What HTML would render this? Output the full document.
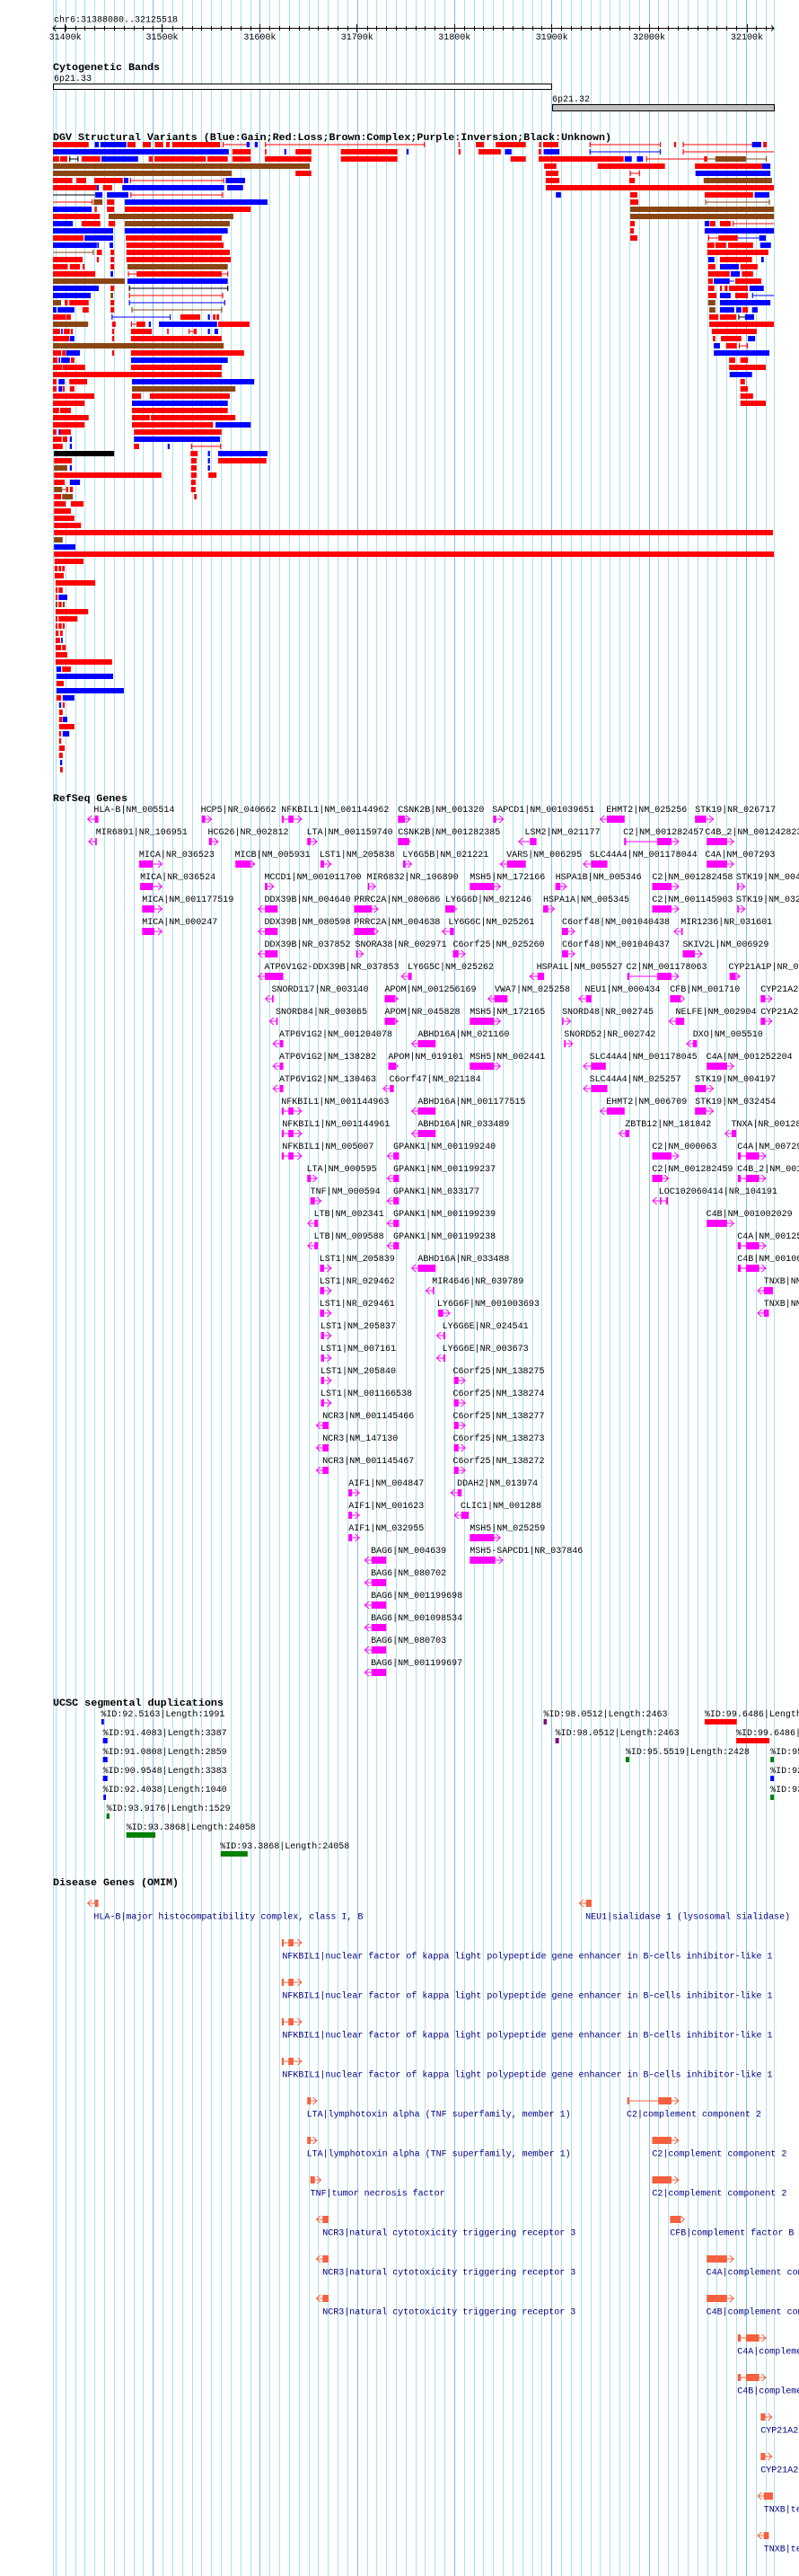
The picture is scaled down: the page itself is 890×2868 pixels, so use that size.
<!DOCTYPE html>
<html><head><meta charset="utf-8">
<style>
html,body{margin:0;padding:0;background:#fff;overflow:hidden;width:890px;height:2868px}
svg{display:block}
text{font-family:"Liberation Mono",monospace;font-size:10px;fill:#000}
.t{font-weight:bold;font-size:11px}
.r{fill:#f00}.b{fill:#00f}.n{fill:#8b4513}.k{fill:#000}.p{fill:#800080}.g{fill:#008000}
.m rect{fill:#f0f}.m path{fill:none;stroke:#f0f;stroke-width:1;vector-effect:non-scaling-stroke}
.o rect{fill:#f5603f}.o path{fill:none;stroke:#f5603f;stroke-width:1;vector-effect:non-scaling-stroke}
.d{fill:#000080}
</style></head><body>
<svg width="890" height="2868" viewBox="0 0 890 2868" xmlns="http://www.w3.org/2000/svg">
<path stroke="#a8e2ee" stroke-width="1" d="M59.5 0V2868M62.5 0V2868M73.5 0V2868M84.5 0V2868M94.5 0V2868M105.5 0V2868M116.5 0V2868M127.5 0V2868M138.5 0V2868M149.5 0V2868M159.5 0V2868M181.5 0V2868M192.5 0V2868M203.5 0V2868M214.5 0V2868M224.5 0V2868M235.5 0V2868M246.5 0V2868M257.5 0V2868M268.5 0V2868M279.5 0V2868M300.5 0V2868M311.5 0V2868M322.5 0V2868M333.5 0V2868M344.5 0V2868M354.5 0V2868M365.5 0V2868M376.5 0V2868M387.5 0V2868M409.5 0V2868M419.5 0V2868M430.5 0V2868M441.5 0V2868M452.5 0V2868M463.5 0V2868M473.5 0V2868M484.5 0V2868M495.5 0V2868M517.5 0V2868M528.5 0V2868M538.5 0V2868M549.5 0V2868M560.5 0V2868M571.5 0V2868M582.5 0V2868M593.5 0V2868M603.5 0V2868M625.5 0V2868M636.5 0V2868M647.5 0V2868M658.5 0V2868M668.5 0V2868M679.5 0V2868M690.5 0V2868M701.5 0V2868M712.5 0V2868M733.5 0V2868M744.5 0V2868M755.5 0V2868M766.5 0V2868M777.5 0V2868M788.5 0V2868M798.5 0V2868M809.5 0V2868M820.5 0V2868M842.5 0V2868M853.5 0V2868M862.5 0V2868"/>
<path stroke="#86bde6" stroke-width="1" d="M170.5 0V2868M289.5 0V2868M398.5 0V2868M506.5 0V2868M614.5 0V2868M723.5 0V2868M831.5 0V2868"/>

<!-- ruler -->
<text x="60" y="24.5">chr6:31388080..32125518</text>
<path stroke="#000" stroke-width="1" fill="none" d="M59 31.5H862M62 28.5L59 31.5L62 34.5M859 28.5L862 31.5L859 34.5"/>
<path stroke="#000" stroke-width="1" d="M73.5 29V34M84.5 29V34M94.5 29V34M105.5 29V34M116.5 29V34M127.5 29V34M138.5 29V34M149.5 29V34M159.5 29V34M170.5 29V34M192.5 29V34M203.5 29V34M214.5 29V34M224.5 29V34M235.5 29V34M246.5 29V34M257.5 29V34M268.5 29V34M279.5 29V34M300.5 29V34M311.5 29V34M322.5 29V34M333.5 29V34M344.5 29V34M354.5 29V34M365.5 29V34M376.5 29V34M387.5 29V34M409.5 29V34M419.5 29V34M430.5 29V34M441.5 29V34M452.5 29V34M463.5 29V34M473.5 29V34M484.5 29V34M495.5 29V34M517.5 29V34M528.5 29V34M538.5 29V34M549.5 29V34M560.5 29V34M571.5 29V34M582.5 29V34M593.5 29V34M603.5 29V34M625.5 29V34M636.5 29V34M647.5 29V34M658.5 29V34M668.5 29V34M679.5 29V34M690.5 29V34M701.5 29V34M712.5 29V34M733.5 29V34M744.5 29V34M755.5 29V34M766.5 29V34M777.5 29V34M788.5 29V34M798.5 29V34M809.5 29V34M820.5 29V34M842.5 29V34M853.5 29V34M72.5 27V36M180.5 27V36M289.5 27V36M397.5 27V36M506.5 27V36M614.5 27V36M723.5 27V36M832.5 27V36"/>
<g text-anchor="middle"><text x="72.6" y="44">31400k</text><text x="180.5" y="44">31500k</text><text x="289.4" y="44">31600k</text><text x="397.8" y="44">31700k</text><text x="506.2" y="44">31800k</text><text x="614.6" y="44">31900k</text><text x="723" y="44">32000k</text><text x="832" y="44">32100k</text></g>

<!-- cytobands -->
<text class="t" x="59" y="78" textLength="119" lengthAdjust="spacingAndGlyphs">Cytogenetic Bands</text>
<text x="60" y="90">6p21.33</text>
<rect x="59.5" y="93.5" width="555" height="6" fill="#fff" stroke="#000"/>
<text x="615" y="113">6p21.32</text>
<rect x="615.5" y="116.5" width="247" height="7" fill="#c0c0c0" stroke="#000"/>

<!-- DGV -->
<text class="t" x="59" y="156" textLength="622" lengthAdjust="spacingAndGlyphs">DGV Structural Variants (Blue:Gain;Red:Loss;Brown:Complex;Purple:Inversion;Black:Unknown)</text>
<g transform="scale(0.56754 1)">
<g transform="translate(0,158)"><rect class="r" x="104" width="70" height="6"/><rect class="b" x="186" width="8" height="6"/><rect class="b" x="197" width="51" height="6"/><rect class="r" x="250" width="16" height="6"/><rect class="r" x="280" width="16" height="6"/><rect class="r" x="304" width="16" height="6"/><rect class="r" x="326" width="7" height="6"/><rect class="r" x="338" width="94" height="6"/><rect class="r" x="437" y="2.5" width="48" height="1"/><rect class="r" x="437" width="2" height="6"/><rect class="b" x="484" width="6" height="6"/><rect class="b" x="500" width="6" height="6"/><rect class="r" x="520" y="2.5" width="314" height="1"/><rect class="r" x="520" width="2" height="6"/><rect class="r" x="832" width="2" height="6"/><rect class="r" x="900" width="2" height="6"/><rect class="r" x="934" width="16" height="6"/><rect class="r" x="973" width="59" height="6"/><rect class="r" x="1058" width="4" height="6"/><rect class="r" x="1066" width="30" height="6"/><rect class="r" x="1157" y="2.5" width="140" height="1"/><rect class="r" x="1157" width="2" height="6"/><rect class="r" x="1295" width="2" height="6"/><rect class="r" x="1323" width="4" height="6"/><rect class="r" x="1340" y="2.5" width="140" height="1"/><rect class="r" x="1340" width="2" height="6"/><rect class="b" x="1476" width="18" height="6"/><rect class="r" x="1498" width="7" height="6"/></g>
<g transform="translate(0,166)"><rect class="b" x="104" width="345" height="6"/><rect class="r" x="456" width="36" height="6"/><rect class="r" x="520" width="3" height="6"/><rect class="b" x="558" width="4" height="6"/><rect class="r" x="580" width="31" height="6"/><rect class="r" x="669" width="111" height="6"/><rect class="b" x="798" width="4" height="6"/><rect class="r" x="900" width="4" height="6"/><rect class="r" x="939" width="44" height="6"/><rect class="b" x="991" width="13" height="6"/><rect class="r" x="1057" width="5" height="6"/><rect class="b" x="1067" width="31" height="6"/><rect class="b" x="1157" y="2.5" width="140" height="1"/><rect class="b" x="1157" width="2" height="6"/><rect class="b" x="1295" width="2" height="6"/><rect class="r" x="1340" y="2.5" width="179" height="1"/><rect class="r" x="1340" width="2" height="6"/></g>
<g transform="translate(0,174)"><rect class="r" x="104" width="12" height="6"/><rect class="r" x="118" width="14" height="6"/><rect class="k" x="136" y="2.5" width="18" height="1"/><rect class="k" x="136" width="2" height="6"/><rect class="k" x="152" width="2" height="6"/><rect class="r" x="160" width="37" height="6"/><rect class="b" x="199" width="72" height="6"/><rect class="r" x="292" width="8" height="6"/><rect class="r" x="303" width="101" height="6"/><rect class="r" x="407" width="40" height="6"/><rect class="r" x="456" width="36" height="6"/><rect class="r" x="520" width="91" height="6"/><rect class="r" x="669" width="111" height="6"/><rect class="r" x="1002" width="30" height="6"/><rect class="r" x="1057" width="167" height="6"/><rect class="b" x="1226" width="14" height="6"/><rect class="b" x="1250" width="12" height="6"/><rect class="r" x="1268" y="2.5" width="116" height="1"/><rect class="r" x="1268" width="2" height="6"/><rect class="r" x="1382" width="6" height="6"/><rect class="n" x="1388" y="2.5" width="117" height="1"/><rect class="n" x="1404" width="60" height="6"/><rect class="n" x="1503" width="2" height="6"/></g>
<g transform="translate(0,182)"><rect class="n" x="104" width="504" height="6"/><rect class="r" x="1068" width="24" height="6"/><rect class="r" x="1173" width="132" height="6"/><rect class="r" x="1364" width="132" height="6"/><rect class="b" x="1496" width="16" height="6"/></g>
<g transform="translate(0,190)"><rect class="n" x="104" width="351" height="6"/><rect class="r" x="580" width="31" height="6"/><rect class="r" x="1071" width="25" height="6"/><rect class="r" x="1236" y="2.5" width="20" height="1"/><rect class="r" x="1236" width="2" height="6"/><rect class="r" x="1254" width="2" height="6"/><rect class="b" x="1365" width="147" height="6"/></g>
<g transform="translate(0,198)"><rect class="r" x="104" width="38" height="6"/><rect class="r" x="150" width="19" height="6"/><rect class="r" x="185" width="56" height="6"/><rect class="b" x="243" width="9" height="6"/><rect class="r" x="255" y="2.5" width="185" height="1"/><rect class="r" x="255" width="2" height="6"/><rect class="r" x="438" width="2" height="6"/><rect class="b" x="443" width="38" height="6"/><rect class="r" x="1071" width="27" height="6"/><rect class="r" x="1235" width="11" height="6"/><rect class="n" x="1381" width="134" height="6"/></g>
<g transform="translate(0,206)"><rect class="r" x="104" width="86" height="6"/><rect class="b" x="190" width="4" height="6"/><rect class="r" x="202" width="18" height="6"/><rect class="b" x="240" width="200" height="6"/><rect class="b" x="446" width="31" height="6"/><rect class="r" x="1071" width="448" height="6"/></g>
<g transform="translate(0,214)"><rect class="k" x="104" y="2.5" width="83" height="1"/><rect class="b" x="187" width="14" height="6"/><rect class="b" x="210" width="42" height="6"/><rect class="r" x="256" y="2.5" width="182" height="1"/><rect class="r" x="256" width="2" height="6"/><rect class="r" x="436" width="2" height="6"/><rect class="b" x="1091" width="10" height="6"/><rect class="r" x="1237" width="14" height="6"/><rect class="r" x="1383" width="95" height="6"/><rect class="b" x="1481" width="29" height="6"/></g>
<g transform="translate(0,222)"><rect class="r" x="104" y="2.5" width="78" height="1"/><rect class="r" x="180" width="2" height="6"/><rect class="n" x="184" width="17" height="6"/><rect class="r" x="210" width="14" height="6"/><rect class="b" x="245" width="280" height="6"/><rect class="r" x="1237" width="16" height="6"/><rect class="n" x="1384" y="2.5" width="127" height="1"/><rect class="n" x="1384" width="2" height="6"/><rect class="n" x="1509" width="2" height="6"/></g>
<g transform="translate(0,230)"><rect class="b" x="104" width="76" height="6"/><rect class="r" x="186" width="4" height="6"/><rect class="r" x="210" width="14" height="6"/><rect class="r" x="245" width="247" height="6"/><rect class="n" x="1237" width="282" height="6"/></g>
<g transform="translate(0,238)"><rect class="r" x="104" width="92" height="6"/><rect class="n" x="213" width="245" height="6"/><rect class="n" x="1237" width="282" height="6"/></g>
<g transform="translate(0,246)"><rect class="b" x="104" width="39" height="6"/><rect class="r" x="160" width="37" height="6"/><rect class="r" x="213" width="13" height="6"/><rect class="n" x="245" width="206" height="6"/><rect class="r" x="1237" width="9" height="6"/><rect class="b" x="1383" width="9" height="6"/><rect class="r" x="1393" width="11" height="6"/><rect class="r" x="1413" width="21" height="6"/><rect class="r" x="1438" y="2.5" width="81" height="1"/><rect class="r" x="1438" width="2" height="6"/></g>
<g transform="translate(0,254)"><rect class="b" x="104" width="118" height="6"/><rect class="b" x="245" width="202" height="6"/><rect class="r" x="1237" width="7" height="6"/><rect class="b" x="1383" width="136" height="6"/></g>
<g transform="translate(0,262)"><rect class="r" x="104" width="60" height="6"/><rect class="b" x="166" width="56" height="6"/><rect class="r" x="247" width="188" height="6"/><rect class="r" x="1237" width="14" height="6"/><rect class="r" x="1390" y="2.5" width="20" height="1"/><rect class="r" x="1390" width="2" height="6"/><rect class="r" x="1410" width="38" height="6"/><rect class="b" x="1448" y="2.5" width="42" height="1"/><rect class="b" x="1490" width="13" height="6"/></g>
<g transform="translate(0,270)"><rect class="b" x="104" width="86" height="6"/><rect class="b" x="191" width="3" height="6"/><rect class="b" x="215" width="7" height="6"/><rect class="r" x="248" width="191" height="6"/><rect class="r" x="1388" width="14" height="6"/><rect class="r" x="1404" width="21" height="6"/><rect class="r" x="1429" width="49" height="6"/><rect class="b" x="1492" width="21" height="6"/></g>
<g transform="translate(0,278)"><rect class="n" x="104" y="2.5" width="80" height="1"/><rect class="n" x="182" width="2" height="6"/><rect class="r" x="190" width="10" height="6"/><rect class="r" x="217" width="7" height="6"/><rect class="r" x="248" width="203" height="6"/><rect class="r" x="1388" width="120" height="6"/></g>
<g transform="translate(0,286)"><rect class="r" x="104" width="58" height="6"/><rect class="r" x="190" width="4" height="6"/><rect class="r" x="217" width="7" height="6"/><rect class="r" x="248" width="205" height="6"/><rect class="b" x="1390" width="12" height="6"/><rect class="r" x="1413" width="63" height="6"/><rect class="b" x="1494" width="5" height="6"/></g>
<g transform="translate(0,294)"><rect class="r" x="104" width="29" height="6"/><rect class="r" x="137" width="20" height="6"/><rect class="r" x="162" width="4" height="6"/><rect class="r" x="217" width="7" height="6"/><rect class="n" x="250" width="197" height="6"/><rect class="r" x="1390" width="14" height="6"/><rect class="b" x="1413" width="37" height="6"/><rect class="r" x="1453" width="34" height="6"/></g>
<g transform="translate(0,302)"><rect class="r" x="104" width="83" height="6"/><rect class="b" x="217" width="5" height="6"/><rect class="r" x="251" y="2.5" width="197" height="1"/><rect class="r" x="251" width="2" height="6"/><rect class="r" x="446" width="2" height="6"/><rect class="r" x="268" width="167" height="6"/><rect class="r" x="1390" width="42" height="6"/><rect class="b" x="1434" width="18" height="6"/><rect class="r" x="1456" width="22" height="6"/></g>
<g transform="translate(0,310)"><rect class="n" x="104" width="141" height="6"/><rect class="b" x="250" width="197" height="6"/><rect class="r" x="1390" width="9" height="6"/><rect class="b" x="1401" width="31" height="6"/><rect class="b" x="1432" y="2.5" width="9" height="1"/><rect class="r" x="1443" width="51" height="6"/></g>
<g transform="translate(0,318)"><rect class="b" x="104" width="90" height="6"/><rect class="r" x="217" width="7" height="6"/><rect class="k" x="253" y="2.5" width="195" height="1"/><rect class="k" x="253" width="2" height="6"/><rect class="k" x="446" width="2" height="6"/><rect class="r" x="1390" width="12" height="6"/><rect class="r" x="1413" width="4" height="6"/><rect class="r" x="1422" width="6" height="6"/><rect class="r" x="1431" width="37" height="6"/><rect class="b" x="1471" width="28" height="6"/></g>
<g transform="translate(0,326)"><rect class="b" x="104" width="74" height="6"/><rect class="n" x="217" width="5" height="6"/><rect class="r" x="253" y="2.5" width="185" height="1"/><rect class="r" x="253" width="2" height="6"/><rect class="r" x="436" width="2" height="6"/><rect class="r" x="1390" width="16" height="6"/><rect class="b" x="1413" width="21" height="6"/><rect class="r" x="1443" width="25" height="6"/><rect class="b" x="1476" y="2.5" width="43" height="1"/><rect class="b" x="1476" width="2" height="6"/></g>
<g transform="translate(0,334)"><rect class="n" x="104" width="16" height="6"/><rect class="r" x="127" width="6" height="6"/><rect class="r" x="136" width="38" height="6"/><rect class="r" x="217" width="7" height="6"/><rect class="b" x="253" y="2.5" width="189" height="1"/><rect class="b" x="253" width="2" height="6"/><rect class="b" x="440" width="2" height="6"/><rect class="n" x="1390" width="14" height="6"/><rect class="b" x="1413" width="99" height="6"/></g>
<g transform="translate(0,342)"><rect class="b" x="104" width="7" height="6"/><rect class="b" x="113" width="33" height="6"/><rect class="r" x="162" width="12" height="6"/><rect class="r" x="217" width="7" height="6"/><rect class="n" x="258" y="2.5" width="178" height="1"/><rect class="n" x="258" width="2" height="6"/><rect class="n" x="434" width="2" height="6"/><rect class="n" x="1392" width="12" height="6"/><rect class="b" x="1413" width="28" height="6"/><rect class="b" x="1445" width="10" height="6"/><rect class="r" x="1457" width="11" height="6"/><rect class="b" x="1476" width="11" height="6"/></g>
<g transform="translate(0,350)"><rect class="r" x="104" width="25" height="6"/><rect class="r" x="130" width="9" height="6"/><rect class="b" x="219" y="2.5" width="116" height="1"/><rect class="b" x="219" width="2" height="6"/><rect class="b" x="333" width="2" height="6"/><rect class="r" x="354" width="39" height="6"/><rect class="b" x="408" width="4" height="6"/><rect class="r" x="418" width="5" height="6"/><rect class="r" x="425" width="5" height="6"/><rect class="r" x="1392" width="18" height="6"/><rect class="r" x="1413" width="32" height="6"/><rect class="k" x="1449" y="2.5" width="13" height="1"/><rect class="k" x="1449" width="2" height="6"/><rect class="b" x="1462" width="18" height="6"/></g>
<g transform="translate(0,358)"><rect class="n" x="104" width="69" height="6"/><rect class="r" x="220" width="7" height="6"/><rect class="r" x="257" y="2.5" width="11" height="1"/><rect class="r" x="257" width="2" height="6"/><rect class="r" x="268" width="17" height="6"/><rect class="b" x="292" width="4" height="6"/><rect class="b" x="312" width="114" height="6"/><rect class="r" x="428" width="62" height="6"/><rect class="r" x="1392" width="127" height="6"/></g>
<g transform="translate(0,366)"><rect class="r" x="104" width="14" height="6"/><rect class="b" x="120" width="3" height="6"/><rect class="r" x="125" width="12" height="6"/><rect class="r" x="139" width="4" height="6"/><rect class="r" x="220" width="4" height="6"/><rect class="r" x="257" width="41" height="6"/><rect class="r" x="328" width="3" height="6"/><rect class="r" x="370" y="2.5" width="16" height="1"/><rect class="r" x="370" width="2" height="6"/><rect class="r" x="380" width="6" height="6"/><rect class="b" x="408" width="4" height="6"/><rect class="b" x="421" width="7" height="6"/><rect class="r" x="1397" width="88" height="6"/></g>
<g transform="translate(0,374)"><rect class="r" x="104" width="32" height="6"/><rect class="b" x="137" width="9" height="6"/><rect class="r" x="220" width="4" height="6"/><rect class="r" x="257" width="178" height="6"/><rect class="r" x="1399" width="5" height="6"/><rect class="r" x="1415" width="40" height="6"/><rect class="b" x="1468" width="14" height="6"/></g>
<g transform="translate(0,382)"><rect class="n" x="104" width="335" height="6"/><rect class="b" x="1401" width="12" height="6"/><rect class="r" x="1425" width="21" height="6"/><rect class="r" x="1450" y="2.5" width="18" height="1"/><rect class="r" x="1450" width="2" height="6"/><rect class="r" x="1466" width="2" height="6"/></g>
<g transform="translate(0,390)"><rect class="r" x="104" width="16" height="6"/><rect class="r" x="122" width="7" height="6"/><rect class="b" x="130" width="27" height="6"/><rect class="r" x="220" width="4" height="6"/><rect class="r" x="257" width="222" height="6"/><rect class="b" x="1401" width="109" height="6"/></g>
<g transform="translate(0,398)"><rect class="r" x="104" width="9" height="6"/><rect class="b" x="115" width="3" height="6"/><rect class="b" x="120" width="17" height="6"/><rect class="r" x="139" width="7" height="6"/><rect class="b" x="257" width="190" height="6"/><rect class="r" x="1431" width="12" height="6"/><rect class="r" x="1453" width="15" height="6"/></g>
<g transform="translate(0,406)"><rect class="r" x="104" width="18" height="6"/><rect class="r" x="123" width="44" height="6"/><rect class="r" x="257" width="178" height="6"/><rect class="r" x="1431" width="72" height="6"/></g>
<g transform="translate(0,414)"><rect class="r" x="104" width="331" height="6"/><rect class="b" x="1432" width="44" height="6"/></g>
<g transform="translate(0,422)"><rect class="r" x="104" width="7" height="6"/><rect class="b" x="115" width="12" height="6"/><rect class="r" x="136" width="35" height="6"/><rect class="b" x="259" width="240" height="6"/><rect class="r" x="1453" width="9" height="6"/></g>
<g transform="translate(0,430)"><rect class="r" x="104" width="7" height="6"/><rect class="b" x="115" width="7" height="6"/><rect class="r" x="123" width="4" height="6"/><rect class="r" x="137" width="9" height="6"/><rect class="n" x="259" width="203" height="6"/><rect class="r" x="1453" width="15" height="6"/></g>
<g transform="translate(0,438)"><rect class="r" x="104" width="81" height="6"/><rect class="r" x="259" width="18" height="6"/><rect class="r" x="294" width="157" height="6"/><rect class="r" x="1453" width="25" height="6"/></g>
<g transform="translate(0,446)"><rect class="r" x="104" width="62" height="6"/><rect class="b" x="259" width="188" height="6"/><rect class="r" x="1453" width="50" height="6"/></g>
<g transform="translate(0,454)"><rect class="r" x="104" width="12" height="6"/><rect class="r" x="118" width="21" height="6"/><rect class="r" x="259" width="188" height="6"/></g>
<g transform="translate(0,462)"><rect class="r" x="104" width="70" height="6"/><rect class="r" x="259" width="35" height="6"/><rect class="r" x="296" width="166" height="6"/></g>
<g transform="translate(0,470)"><rect class="r" x="104" width="62" height="6"/><rect class="r" x="259" width="159" height="6"/><rect class="b" x="423" width="69" height="6"/></g>
<g transform="translate(0,478)"><rect class="r" x="104" width="7" height="6"/><rect class="b" x="115" width="3" height="6"/><rect class="r" x="118" width="21" height="6"/><rect class="r" x="263" width="172" height="6"/></g>
<g transform="translate(0,486)"><rect class="r" x="104" width="17" height="6"/><rect class="r" x="123" width="9" height="6"/><rect class="b" x="137" width="4" height="6"/><rect class="b" x="263" width="169" height="6"/></g>
<g transform="translate(0,494)"><rect class="r" x="104" width="19" height="6"/><rect class="b" x="137" width="4" height="6"/><rect class="r" x="263" width="10" height="6"/><rect class="b" x="329" width="4" height="6"/><rect class="r" x="375" y="2.5" width="59" height="1"/><rect class="r" x="375" width="2" height="6"/><rect class="r" x="432" width="2" height="6"/></g>
<g transform="translate(0,502)"><rect class="k" x="106" width="118" height="6"/><rect class="r" x="374" width="14" height="6"/><rect class="b" x="408" width="4" height="6"/><rect class="b" x="428" width="97" height="6"/></g>
<g transform="translate(0,510)"><rect class="r" x="106" width="35" height="6"/><rect class="r" x="375" width="11" height="6"/><rect class="b" x="408" width="4" height="6"/><rect class="r" x="428" width="95" height="6"/></g>
<g transform="translate(0,518)"><rect class="n" x="106" width="26" height="6"/><rect class="b" x="137" width="4" height="6"/><rect class="r" x="375" width="11" height="6"/><rect class="b" x="408" width="4" height="6"/></g>
<g transform="translate(0,526)"><rect class="r" x="106" width="211" height="6"/><rect class="r" x="375" width="11" height="6"/><rect class="r" x="409" width="16" height="6"/></g>
<g transform="translate(0,534)"><rect class="r" x="106" width="21" height="6"/><rect class="b" x="137" width="20" height="6"/><rect class="r" x="375" width="9" height="6"/></g>
<g transform="translate(0,542)"><rect class="n" x="106" width="16" height="6"/><rect class="n" x="122" y="2.5" width="8" height="1"/><rect class="r" x="130" width="4" height="6"/><rect class="r" x="137" width="6" height="6"/><rect class="r" x="375" width="9" height="6"/></g>
<g transform="translate(0,550)"><rect class="r" x="106" width="14" height="6"/><rect class="n" x="122" width="21" height="6"/><rect class="r" x="381" width="5" height="6"/></g>
<g transform="translate(0,558)"><rect class="r" x="106" width="23" height="6"/><rect class="r" x="139" width="25" height="6"/></g>
<g transform="translate(0,566)"><rect class="r" x="106" width="33" height="6"/></g>
<g transform="translate(0,574)"><rect class="r" x="106" width="40" height="6"/></g>
<g transform="translate(0,582)"><rect class="r" x="106" width="53" height="6"/></g>
<g transform="translate(0,590)"><rect class="r" x="106" width="1411" height="6"/></g>
<g transform="translate(0,598)"><rect class="n" x="106" width="17" height="6"/></g>
<g transform="translate(0,606)"><rect class="b" x="106" width="42" height="6"/></g>
<g transform="translate(0,614)"><rect class="r" x="106" width="1413" height="6"/></g>
<g transform="translate(0,622)"><rect class="r" x="107" width="57" height="6"/></g>
<g transform="translate(0,630)"><rect class="r" x="107" width="6" height="6"/><rect class="r" x="115" width="5" height="6"/><rect class="r" x="122" width="5" height="6"/></g>
<g transform="translate(0,638)"><rect class="r" x="107" width="18" height="6"/></g>
<g transform="translate(0,646)"><rect class="r" x="109" width="78" height="6"/></g>
<g transform="translate(0,654)"><rect class="r" x="109" width="4" height="6"/><rect class="r" x="115" width="8" height="6"/></g>
<g transform="translate(0,662)"><rect class="r" x="109" width="4" height="6"/><rect class="b" x="115" width="17" height="6"/></g>
<g transform="translate(0,670)"><rect class="n" x="109" width="4" height="6"/><rect class="r" x="115" width="6" height="6"/><rect class="n" x="123" width="4" height="6"/></g>
<g transform="translate(0,678)"><rect class="r" x="109" width="64" height="6"/></g>
<g transform="translate(0,686)"><rect class="r" x="109" width="4" height="6"/><rect class="r" x="115" width="37" height="6"/></g>
<g transform="translate(0,694)"><rect class="r" x="109" width="4" height="6"/><rect class="r" x="115" width="6" height="6"/><rect class="r" x="123" width="4" height="6"/></g>
<g transform="translate(0,702)"><rect class="r" x="109" width="6" height="6"/><rect class="r" x="118" width="5" height="6"/></g>
<g transform="translate(0,710)"><rect class="r" x="109" width="9" height="6"/><rect class="b" x="120" width="3" height="6"/></g>
<g transform="translate(0,718)"><rect class="r" x="109" width="11" height="6"/><rect class="r" x="122" width="7" height="6"/></g>
<g transform="translate(0,726)"><rect class="r" x="109" width="23" height="6"/></g>
<g transform="translate(0,734)"><rect class="r" x="109" width="111" height="6"/></g>
<g transform="translate(0,742)"><rect class="b" x="111" width="9" height="6"/><rect class="r" x="122" width="17" height="6"/></g>
<g transform="translate(0,750)"><rect class="b" x="111" width="111" height="6"/></g>
<g transform="translate(0,758)"><rect class="r" x="111" width="14" height="6"/></g>
<g transform="translate(0,766)"><rect class="b" x="111" width="132" height="6"/></g>
<g transform="translate(0,774)"><rect class="r" x="111" width="9" height="6"/><rect class="b" x="123" width="23" height="6"/></g>
<g transform="translate(0,782)"><rect class="b" x="116" width="4" height="6"/><rect class="r" x="123" width="4" height="6"/></g>
<g transform="translate(0,790)"><rect class="r" x="116" width="7" height="6"/></g>
<g transform="translate(0,798)"><rect class="r" x="116" width="6" height="6"/><rect class="b" x="123" width="9" height="6"/></g>
<g transform="translate(0,806)"><rect class="r" x="116" width="30" height="6"/></g>
<g transform="translate(0,814)"><rect class="r" x="116" width="4" height="6"/><rect class="b" x="123" width="13" height="6"/></g>
<g transform="translate(0,822)"><rect class="r" x="116" width="4" height="6"/></g>
<g transform="translate(0,830)"><rect class="r" x="116" width="11" height="6"/></g>
<g transform="translate(0,838)"><rect class="r" x="116" width="7" height="6"/></g>
<g transform="translate(0,846)"><rect class="b" x="118" width="4" height="6"/></g>
<g transform="translate(0,854)"><rect class="r" x="118" width="5" height="6"/></g>
</g>

<!-- RefSeq genes -->
<text class="t" x="59" y="892" textLength="83" lengthAdjust="spacingAndGlyphs">RefSeq Genes</text>
<g class="m" transform="scale(0.56754 1)">
<g transform="translate(0,908)"><path d="M180 0L172 4L180 8"/><rect x="172" y="3.5" width="14" height="1"/><rect x="186" width="7" height="8"/><rect x="396" width="7" height="8"/><rect x="403" y="3.5" width="12" height="1"/><path d="M407 0L415 4L407 8"/><rect x="553" width="4" height="8"/><rect x="566" width="10" height="8"/><rect x="553" y="3.5" width="39" height="1"/><path d="M584 0L592 4L584 8"/><rect x="781" width="14" height="8"/><rect x="795" y="3.5" width="10" height="1"/><path d="M797 0L805 4L797 8"/><rect x="968" width="6" height="8"/><rect x="974" y="3.5" width="14" height="1"/><path d="M980 0L988 4L980 8"/><path d="M1186 0L1178 4L1186 8"/><rect x="1178" y="3.5" width="13" height="1"/><rect x="1191" width="35" height="8"/><rect x="1364" width="22" height="8"/><rect x="1386" y="3.5" width="14" height="1"/><path d="M1392 0L1400 4L1392 8"/></g>
<g transform="translate(0,933)"><path d="M182 0L174 4L182 8"/><rect x="174" y="3.5" width="14" height="1"/><rect x="187" width="3" height="8"/><rect x="410" width="6" height="8"/><rect x="416" y="3.5" width="12" height="1"/><path d="M420 0L428 4L420 8"/><rect x="603" width="7" height="8"/><rect x="610" y="3.5" width="12" height="1"/><path d="M614 0L622 4L614 8"/><rect x="781" width="22" height="8"/><path d="M797 0L805 4L797 8"/><path d="M1026 0L1018 4L1026 8"/><rect x="1018" y="3.5" width="22" height="1"/><rect x="1040" width="13" height="8"/><rect x="1225" width="4" height="8"/><rect x="1229" y="3.5" width="103" height="1"/><rect x="1290" width="28" height="8"/><path d="M1324 0L1332 4L1324 8"/><rect x="1387" width="40" height="8"/><rect x="1427" y="3.5" width="13" height="1"/><path d="M1432 0L1440 4L1432 8"/></g>
<g transform="translate(0,958)"><rect x="273" width="27" height="8"/><rect x="300" y="3.5" width="18" height="1"/><path d="M310 0L318 4L310 8"/><rect x="462" width="30" height="8"/><rect x="492" y="3.5" width="8" height="1"/><path d="M492 0L500 4L492 8"/><rect x="629" width="7" height="8"/><rect x="636" y="3.5" width="14" height="1"/><path d="M642 0L650 4L642 8"/><rect x="791" width="5" height="8"/><rect x="796" y="3.5" width="12" height="1"/><path d="M800 0L808 4L800 8"/><path d="M990 0L982 4L990 8"/><rect x="982" y="3.5" width="13" height="1"/><rect x="995" width="37" height="8"/><path d="M1153 0L1145 4L1153 8"/><rect x="1145" y="3.5" width="15" height="1"/><rect x="1160" width="32" height="8"/><rect x="1387" width="40" height="8"/><rect x="1427" y="3.5" width="13" height="1"/><path d="M1432 0L1440 4L1432 8"/></g>
<g transform="translate(0,983)"><rect x="275" width="25" height="8"/><rect x="300" y="3.5" width="18" height="1"/><path d="M310 0L318 4L310 8"/><rect x="520" width="5" height="8"/><rect x="525" y="3.5" width="12" height="1"/><path d="M529 0L537 4L529 8"/><rect x="722" width="3" height="8"/><rect x="725" y="3.5" width="12" height="1"/><path d="M729 0L737 4L729 8"/><rect x="922" width="48" height="8"/><rect x="970" y="3.5" width="12" height="1"/><path d="M974 0L982 4L974 8"/><rect x="1090" width="10" height="8"/><rect x="1100" y="3.5" width="12" height="1"/><path d="M1104 0L1112 4L1104 8"/><rect x="1280" width="38" height="8"/><rect x="1318" y="3.5" width="14" height="1"/><path d="M1324 0L1332 4L1324 8"/><rect x="1447" width="3" height="8"/><rect x="1450" y="3.5" width="12" height="1"/><path d="M1454 0L1462 4L1454 8"/></g>
<g transform="translate(0,1008)"><rect x="279" width="24" height="8"/><rect x="303" y="3.5" width="15" height="1"/><path d="M310 0L318 4L310 8"/><path d="M515 0L507 4L515 8"/><rect x="507" y="3.5" width="13" height="1"/><rect x="520" width="25" height="8"/><rect x="695" width="35" height="8"/><rect x="730" y="3.5" width="12" height="1"/><path d="M734 0L742 4L734 8"/><rect x="874" width="18" height="8"/><path d="M888 0L896 4L888 8"/><rect x="1066" width="10" height="8"/><rect x="1076" y="3.5" width="12" height="1"/><path d="M1080 0L1088 4L1080 8"/><rect x="1280" width="38" height="8"/><rect x="1318" y="3.5" width="14" height="1"/><path d="M1324 0L1332 4L1324 8"/><rect x="1447" width="3" height="8"/><rect x="1450" y="3.5" width="12" height="1"/><path d="M1454 0L1462 4L1454 8"/></g>
<g transform="translate(0,1033)"><rect x="279" width="24" height="8"/><rect x="303" y="3.5" width="15" height="1"/><path d="M310 0L318 4L310 8"/><path d="M515 0L507 4L515 8"/><rect x="507" y="3.5" width="13" height="1"/><rect x="520" width="25" height="8"/><rect x="695" width="40" height="8"/><path d="M734 0L742 4L734 8"/><path d="M876 0L868 4L876 8"/><rect x="868" y="3.5" width="15" height="1"/><rect x="883" width="8" height="8"/><rect x="1103" width="12" height="8"/><rect x="1115" y="3.5" width="13" height="1"/><path d="M1120 0L1128 4L1120 8"/><path d="M1331 0L1323 4L1331 8"/><rect x="1323" y="3.5" width="14" height="1"/><rect x="1337" width="3" height="8"/></g>
<g transform="translate(0,1058)"><path d="M515 0L507 4L515 8"/><rect x="507" y="3.5" width="13" height="1"/><rect x="520" width="25" height="8"/><rect x="699" width="3" height="8"/><rect x="702" y="3.5" width="11" height="1"/><path d="M705 0L713 4L705 8"/><rect x="889" width="11" height="8"/><rect x="900" y="3.5" width="13" height="1"/><path d="M905 0L913 4L905 8"/><rect x="1103" width="12" height="8"/><rect x="1115" y="3.5" width="13" height="1"/><path d="M1120 0L1128 4L1120 8"/><rect x="1340" width="24" height="8"/><rect x="1364" y="3.5" width="14" height="1"/><path d="M1370 0L1378 4L1370 8"/></g>
<g transform="translate(0,1083)"><path d="M515 0L507 4L515 8"/><rect x="507" y="3.5" width="13" height="1"/><rect x="520" width="36" height="8"/><path d="M796 0L788 4L796 8"/><rect x="788" y="3.5" width="13" height="1"/><rect x="801" width="7" height="8"/><path d="M1048 0L1040 4L1048 8"/><rect x="1040" y="3.5" width="15" height="1"/><rect x="1055" width="13" height="8"/><rect x="1231" width="4" height="8"/><rect x="1235" y="3.5" width="97" height="1"/><rect x="1290" width="28" height="8"/><path d="M1324 0L1332 4L1324 8"/><rect x="1432" width="12" height="8"/><rect x="1444" y="3.5" width="8" height="1"/><path d="M1444 0L1452 4L1444 8"/></g>
<g transform="translate(0,1108)"><path d="M529 0L521 4L529 8"/><rect x="521" y="3.5" width="13" height="1"/><rect x="534" width="3" height="8"/><rect x="755" width="20" height="8"/><rect x="775" y="3.5" width="6" height="1"/><path d="M773 0L781 4L773 8"/><path d="M966 0L958 4L966 8"/><rect x="958" y="3.5" width="12" height="1"/><rect x="970" width="26" height="8"/><path d="M1144 0L1136 4L1144 8"/><rect x="1136" y="3.5" width="14" height="1"/><rect x="1150" width="11" height="8"/><rect x="1315" width="21" height="8"/><path d="M1335 0L1343 4L1335 8"/><rect x="1493" width="9" height="8"/><rect x="1502" y="3.5" width="13" height="1"/><path d="M1507 0L1515 4L1507 8"/></g>
<g transform="translate(0,1133)"><path d="M537 0L529 4L537 8"/><rect x="529" y="3.5" width="13" height="1"/><rect x="542" width="3" height="8"/><rect x="755" width="20" height="8"/><rect x="775" y="3.5" width="6" height="1"/><path d="M773 0L781 4L773 8"/><rect x="922" width="48" height="8"/><rect x="970" y="3.5" width="12" height="1"/><path d="M974 0L982 4L974 8"/><rect x="1103" width="3" height="8"/><rect x="1106" y="3.5" width="14" height="1"/><path d="M1112 0L1120 4L1112 8"/><path d="M1321 0L1313 4L1321 8"/><rect x="1313" y="3.5" width="13" height="1"/><rect x="1326" width="17" height="8"/><rect x="1493" width="9" height="8"/><rect x="1502" y="3.5" width="13" height="1"/><path d="M1507 0L1515 4L1507 8"/></g>
<g transform="translate(0,1158)"><path d="M544 0L536 4L544 8"/><rect x="536" y="3.5" width="13" height="1"/><rect x="549" width="7" height="8"/><path d="M816 0L808 4L816 8"/><rect x="808" y="3.5" width="12" height="1"/><rect x="820" width="35" height="8"/><rect x="1107" width="3" height="8"/><rect x="1110" y="3.5" width="14" height="1"/><path d="M1116 0L1124 4L1116 8"/><path d="M1356 0L1348 4L1356 8"/><rect x="1348" y="3.5" width="12" height="1"/><rect x="1360" width="8" height="8"/></g>
<g transform="translate(0,1183)"><path d="M544 0L536 4L544 8"/><rect x="536" y="3.5" width="13" height="1"/><rect x="549" width="7" height="8"/><rect x="762" width="15" height="8"/><path d="M773 0L781 4L773 8"/><rect x="922" width="48" height="8"/><rect x="970" y="3.5" width="12" height="1"/><path d="M974 0L982 4L974 8"/><path d="M1153 0L1145 4L1153 8"/><rect x="1145" y="3.5" width="15" height="1"/><rect x="1160" width="29" height="8"/><rect x="1387" width="40" height="8"/><rect x="1427" y="3.5" width="13" height="1"/><path d="M1432 0L1440 4L1432 8"/></g>
<g transform="translate(0,1208)"><path d="M544 0L536 4L544 8"/><rect x="536" y="3.5" width="13" height="1"/><rect x="549" width="7" height="8"/><path d="M760 0L752 4L760 8"/><rect x="752" y="3.5" width="13" height="1"/><rect x="765" width="8" height="8"/><path d="M1153 0L1145 4L1153 8"/><rect x="1145" y="3.5" width="15" height="1"/><rect x="1160" width="32" height="8"/><rect x="1364" width="22" height="8"/><rect x="1386" y="3.5" width="14" height="1"/><path d="M1392 0L1400 4L1392 8"/></g>
<g transform="translate(0,1233)"><rect x="553" width="4" height="8"/><rect x="566" width="10" height="8"/><rect x="553" y="3.5" width="39" height="1"/><path d="M584 0L592 4L584 8"/><path d="M816 0L808 4L816 8"/><rect x="808" y="3.5" width="12" height="1"/><rect x="820" width="35" height="8"/><path d="M1186 0L1178 4L1186 8"/><rect x="1178" y="3.5" width="13" height="1"/><rect x="1191" width="35" height="8"/><rect x="1364" width="22" height="8"/><rect x="1386" y="3.5" width="14" height="1"/><path d="M1392 0L1400 4L1392 8"/></g>
<g transform="translate(0,1258)"><rect x="553" width="4" height="8"/><rect x="566" width="10" height="8"/><rect x="553" y="3.5" width="39" height="1"/><path d="M584 0L592 4L584 8"/><path d="M816 0L808 4L816 8"/><rect x="808" y="3.5" width="12" height="1"/><rect x="820" width="35" height="8"/><path d="M1223 0L1215 4L1223 8"/><rect x="1215" y="3.5" width="12" height="1"/><rect x="1227" width="8" height="8"/><path d="M1431 0L1423 4L1431 8"/><rect x="1423" y="3.5" width="13" height="1"/><rect x="1436" width="9" height="8"/></g>
<g transform="translate(0,1283)"><rect x="553" width="4" height="8"/><rect x="566" width="10" height="8"/><rect x="553" y="3.5" width="39" height="1"/><path d="M584 0L592 4L584 8"/><path d="M768 0L760 4L768 8"/><rect x="760" y="3.5" width="12" height="1"/><rect x="772" width="11" height="8"/><rect x="1280" width="38" height="8"/><rect x="1318" y="3.5" width="14" height="1"/><path d="M1324 0L1332 4L1324 8"/><rect x="1448" width="6" height="8"/><rect x="1464" width="26" height="8"/><rect x="1448" y="3.5" width="55" height="1"/><path d="M1495 0L1503 4L1495 8"/></g>
<g transform="translate(0,1308)"><rect x="603" width="7" height="8"/><rect x="610" y="3.5" width="12" height="1"/><path d="M614 0L622 4L614 8"/><path d="M768 0L760 4L768 8"/><rect x="760" y="3.5" width="12" height="1"/><rect x="772" width="11" height="8"/><rect x="1280" width="20" height="8"/><rect x="1300" y="3.5" width="12" height="1"/><path d="M1304 0L1312 4L1304 8"/><rect x="1448" width="6" height="8"/><rect x="1464" width="26" height="8"/><rect x="1448" y="3.5" width="55" height="1"/><path d="M1495 0L1503 4L1495 8"/></g>
<g transform="translate(0,1333)"><rect x="609" width="9" height="8"/><rect x="618" y="3.5" width="12" height="1"/><path d="M622 0L630 4L622 8"/><path d="M768 0L760 4L768 8"/><rect x="760" y="3.5" width="12" height="1"/><rect x="772" width="11" height="8"/><path d="M1289 0L1281 4L1289 8"/><rect x="1281" y="3.5" width="30" height="1"/><rect x="1295" width="3" height="8"/><rect x="1307" width="4" height="8"/></g>
<g transform="translate(0,1358)"><path d="M612 0L604 4L612 8"/><rect x="604" y="3.5" width="13" height="1"/><rect x="617" width="7" height="8"/><path d="M768 0L760 4L768 8"/><rect x="760" y="3.5" width="12" height="1"/><rect x="772" width="11" height="8"/><rect x="1387" width="40" height="8"/><rect x="1427" y="3.5" width="13" height="1"/><path d="M1432 0L1440 4L1432 8"/></g>
<g transform="translate(0,1383)"><path d="M612 0L604 4L612 8"/><rect x="604" y="3.5" width="13" height="1"/><rect x="617" width="7" height="8"/><path d="M768 0L760 4L768 8"/><rect x="760" y="3.5" width="12" height="1"/><rect x="772" width="11" height="8"/><rect x="1448" width="6" height="8"/><rect x="1464" width="26" height="8"/><rect x="1448" y="3.5" width="55" height="1"/><path d="M1495 0L1503 4L1495 8"/></g>
<g transform="translate(0,1408)"><rect x="628" width="8" height="8"/><rect x="636" y="3.5" width="14" height="1"/><path d="M642 0L650 4L642 8"/><path d="M816 0L808 4L816 8"/><rect x="808" y="3.5" width="12" height="1"/><rect x="820" width="35" height="8"/><rect x="1448" width="6" height="8"/><rect x="1464" width="26" height="8"/><rect x="1448" y="3.5" width="55" height="1"/><path d="M1495 0L1503 4L1495 8"/></g>
<g transform="translate(0,1433)"><rect x="628" width="8" height="8"/><rect x="636" y="3.5" width="14" height="1"/><path d="M642 0L650 4L642 8"/><path d="M844 0L836 4L844 8"/><rect x="836" y="3.5" width="13" height="1"/><rect x="849" width="3" height="8"/><path d="M1495 0L1487 4L1495 8"/><rect x="1487" y="3.5" width="12" height="1"/><rect x="1499" width="18" height="8"/></g>
<g transform="translate(0,1458)"><rect x="628" width="8" height="8"/><rect x="636" y="3.5" width="14" height="1"/><path d="M642 0L650 4L642 8"/><rect x="860" width="10" height="8"/><rect x="870" y="3.5" width="13" height="1"/><path d="M875 0L883 4L875 8"/><path d="M1495 0L1487 4L1495 8"/><rect x="1487" y="3.5" width="12" height="1"/><rect x="1499" width="10" height="8"/></g>
<g transform="translate(0,1483)"><rect x="630" width="6" height="8"/><rect x="636" y="3.5" width="14" height="1"/><path d="M642 0L650 4L642 8"/><path d="M865 0L857 4L865 8"/><rect x="857" y="3.5" width="13" height="1"/><rect x="870" width="4" height="8"/></g>
<g transform="translate(0,1508)"><rect x="630" width="6" height="8"/><rect x="636" y="3.5" width="14" height="1"/><path d="M642 0L650 4L642 8"/><path d="M865 0L857 4L865 8"/><rect x="857" y="3.5" width="13" height="1"/><rect x="870" width="4" height="8"/></g>
<g transform="translate(0,1533)"><rect x="630" width="6" height="8"/><rect x="636" y="3.5" width="14" height="1"/><path d="M642 0L650 4L642 8"/><rect x="891" width="9" height="8"/><rect x="900" y="3.5" width="13" height="1"/><path d="M905 0L913 4L905 8"/></g>
<g transform="translate(0,1558)"><rect x="630" width="6" height="8"/><rect x="636" y="3.5" width="14" height="1"/><path d="M642 0L650 4L642 8"/><rect x="891" width="9" height="8"/><rect x="900" y="3.5" width="13" height="1"/><path d="M905 0L913 4L905 8"/></g>
<g transform="translate(0,1583)"><path d="M629 0L621 4L629 8"/><rect x="621" y="3.5" width="12" height="1"/><rect x="633" width="12" height="8"/><rect x="891" width="9" height="8"/><rect x="900" y="3.5" width="13" height="1"/><path d="M905 0L913 4L905 8"/></g>
<g transform="translate(0,1608)"><path d="M629 0L621 4L629 8"/><rect x="621" y="3.5" width="12" height="1"/><rect x="633" width="12" height="8"/><rect x="891" width="9" height="8"/><rect x="900" y="3.5" width="13" height="1"/><path d="M905 0L913 4L905 8"/></g>
<g transform="translate(0,1633)"><path d="M629 0L621 4L629 8"/><rect x="621" y="3.5" width="12" height="1"/><rect x="633" width="12" height="8"/><rect x="891" width="9" height="8"/><rect x="900" y="3.5" width="13" height="1"/><path d="M905 0L913 4L905 8"/></g>
<g transform="translate(0,1658)"><rect x="684" width="7" height="8"/><rect x="691" y="3.5" width="14" height="1"/><path d="M697 0L705 4L697 8"/><path d="M893 0L885 4L893 8"/><rect x="885" y="3.5" width="13" height="1"/><rect x="898" width="8" height="8"/></g>
<g transform="translate(0,1683)"><rect x="684" width="7" height="8"/><rect x="691" y="3.5" width="14" height="1"/><path d="M697 0L705 4L697 8"/><path d="M900 0L892 4L900 8"/><rect x="892" y="3.5" width="13" height="1"/><rect x="905" width="15" height="8"/></g>
<g transform="translate(0,1708)"><rect x="684" width="7" height="8"/><rect x="691" y="3.5" width="14" height="1"/><path d="M697 0L705 4L697 8"/><rect x="922" width="48" height="8"/><rect x="970" y="3.5" width="12" height="1"/><path d="M974 0L982 4L974 8"/></g>
<g transform="translate(0,1733)"><path d="M724 0L716 4L724 8"/><rect x="716" y="3.5" width="13" height="1"/><rect x="729" width="29" height="8"/><rect x="922" width="50" height="8"/><rect x="972" y="3.5" width="15" height="1"/><path d="M979 0L987 4L979 8"/></g>
<g transform="translate(0,1758)"><path d="M724 0L716 4L724 8"/><rect x="716" y="3.5" width="13" height="1"/><rect x="729" width="29" height="8"/></g>
<g transform="translate(0,1783)"><path d="M724 0L716 4L724 8"/><rect x="716" y="3.5" width="13" height="1"/><rect x="729" width="29" height="8"/></g>
<g transform="translate(0,1808)"><path d="M724 0L716 4L724 8"/><rect x="716" y="3.5" width="13" height="1"/><rect x="729" width="29" height="8"/></g>
<g transform="translate(0,1833)"><path d="M724 0L716 4L724 8"/><rect x="716" y="3.5" width="13" height="1"/><rect x="729" width="29" height="8"/></g>
<g transform="translate(0,1858)"><path d="M724 0L716 4L724 8"/><rect x="716" y="3.5" width="13" height="1"/><rect x="729" width="29" height="8"/></g>
</g>
<g>
<text x="104.4" y="904">HLA-B|NM_005514</text><text x="223.6" y="904">HCP5|NR_040662</text><text x="313.3" y="904">NFKBIL1|NM_001144962</text><text x="443.2" y="904">CSNK2B|NM_001320</text><text x="548.2" y="904">SAPCD1|NM_001039651</text><text x="675.3" y="904">EHMT2|NM_025256</text><text x="774.1" y="904">STK19|NR_026717</text>
<text x="106.7" y="929">MIR6891|NR_106951</text><text x="231.5" y="929">HCG26|NR_002812</text><text x="341.6" y="929">LTA|NM_001159740</text><text x="443.2" y="929">CSNK2B|NM_001282385</text><text x="584.5" y="929">LSM2|NM_021177</text><text x="694.1" y="929">C2|NM_001282457</text><text x="785.4" y="929">C4B_2|NM_001242823</text>
<text x="154.9" y="954">MICA|NR_036523</text><text x="261.6" y="954">MICB|NM_005931</text><text x="355.8" y="954">LST1|NM_205838</text><text x="448.3" y="954">LY6G5B|NM_021221</text><text x="564.1" y="954">VARS|NM_006295</text><text x="656.6" y="954">SLC44A4|NM_001178044</text><text x="785.4" y="954">C4A|NM_007293</text>
<text x="156.1" y="979">MICA|NR_036524</text><text x="294.5" y="979">MCCD1|NM_001011700</text><text x="408.6" y="979">MIR6832|NR_106890</text><text x="523.2" y="979">MSH5|NM_172166</text><text x="618.6" y="979">HSPA1B|NM_005346</text><text x="726.4" y="979">C2|NM_001282458</text><text x="820" y="979">STK19|NM_004197</text>
<text x="158.3" y="1004">MICA|NM_001177519</text><text x="294.5" y="1004">DDX39B|NM_004640</text><text x="394.4" y="1004">PRRC2A|NM_080686</text><text x="496" y="1004">LY6G6D|NM_021246</text><text x="605" y="1004">HSPA1A|NM_005345</text><text x="726.4" y="1004">C2|NM_001145903</text><text x="820" y="1004">STK19|NM_032454</text>
<text x="158.3" y="1029">MICA|NM_000247</text><text x="294.5" y="1029">DDX39B|NM_080598</text><text x="394.4" y="1029">PRRC2A|NM_004638</text><text x="499.4" y="1029">LY6G6C|NM_025261</text><text x="626" y="1029">C6orf48|NM_001040438</text><text x="758.2" y="1029">MIR1236|NR_031601</text>
<text x="294.5" y="1054">DDX39B|NR_037852</text><text x="395.5" y="1054">SNORA38|NR_002971</text><text x="504.5" y="1054">C6orf25|NM_025260</text><text x="626" y="1054">C6orf48|NM_001040437</text><text x="760.4" y="1054">SKIV2L|NM_006929</text>
<text x="294.5" y="1079">ATP6V1G2-DDX39B|NR_037853</text><text x="454" y="1079">LY6G5C|NM_025262</text><text x="597.6" y="1079">HSPA1L|NM_005527</text><text x="697.5" y="1079">C2|NM_001178063</text><text x="811.5" y="1079">CYP21A1P|NR_001284</text>
<text x="302.5" y="1104">SNORD117|NR_003140</text><text x="428.5" y="1104">APOM|NM_001256169</text><text x="551" y="1104">VWA7|NM_025258</text><text x="651.5" y="1104">NEU1|NM_000434</text><text x="746.3" y="1104">CFB|NM_001710</text><text x="847.3" y="1104">CYP21A2</text>
<text x="307" y="1129">SNORD84|NR_003065</text><text x="428.5" y="1129">APOM|NR_045828</text><text x="523.2" y="1129">MSH5|NM_172165</text><text x="626" y="1129">SNORD48|NR_002745</text><text x="752.5" y="1129">NELFE|NM_002904</text><text x="847.3" y="1129">CYP21A2</text>
<text x="311" y="1154">ATP6V1G2|NM_001204078</text><text x="465.4" y="1154">ABHD16A|NM_021160</text><text x="628.2" y="1154">SNORD52|NR_002742</text><text x="771.8" y="1154">DXO|NM_005510</text>
<text x="311" y="1179">ATP6V1G2|NM_138282</text><text x="432.4" y="1179">APOM|NM_019101</text><text x="523.2" y="1179">MSH5|NM_002441</text><text x="656.6" y="1179">SLC44A4|NM_001178045</text><text x="786.6" y="1179">C4A|NM_001252204</text>
<text x="311" y="1204">ATP6V1G2|NM_130463</text><text x="433.6" y="1204">C6orf47|NM_021184</text><text x="656.6" y="1204">SLC44A4|NM_025257</text><text x="774.1" y="1204">STK19|NM_004197</text>
<text x="313.3" y="1229">NFKBIL1|NM_001144963</text><text x="465.4" y="1229">ABHD16A|NM_001177515</text><text x="675.3" y="1229">EHMT2|NM_006709</text><text x="774.1" y="1229">STK19|NM_032454</text>
<text x="314.4" y="1254">NFKBIL1|NM_001144961</text><text x="465.4" y="1254">ABHD16A|NR_033489</text><text x="696.3" y="1254">ZBTB12|NM_181842</text><text x="814.4" y="1254">TNXA|NR_001284</text>
<text x="314.4" y="1279">NFKBIL1|NM_005007</text><text x="438.1" y="1279">GPANK1|NM_001199240</text><text x="726.4" y="1279">C2|NM_000063</text><text x="821.2" y="1279">C4A|NM_007293</text>
<text x="341.6" y="1304">LTA|NM_000595</text><text x="438.1" y="1304">GPANK1|NM_001199237</text><text x="726.4" y="1304">C2|NM_001282459</text><text x="821.2" y="1304">C4B_2|NM_001242823</text>
<text x="345.6" y="1329">TNF|NM_000594</text><text x="438.1" y="1329">GPANK1|NM_033177</text><text x="733.8" y="1329">LOC102060414|NR_104191</text>
<text x="349.6" y="1354">LTB|NM_002341</text><text x="438.1" y="1354">GPANK1|NM_001199239</text><text x="786.6" y="1354">C4B|NM_001002029</text>
<text x="349.6" y="1379">LTB|NM_009588</text><text x="438.1" y="1379">GPANK1|NM_001199238</text><text x="821.2" y="1379">C4A|NM_001252204</text>
<text x="355.8" y="1404">LST1|NM_205839</text><text x="465.4" y="1404">ABHD16A|NR_033488</text><text x="821.2" y="1404">C4B|NM_001002029</text>
<text x="355.8" y="1429">LST1|NR_029462</text><text x="481.2" y="1429">MIR4646|NR_039789</text><text x="850.7" y="1429">TNXB|NM_019105</text>
<text x="355.8" y="1454">LST1|NR_029461</text><text x="486.9" y="1454">LY6G6F|NM_001003693</text><text x="850.7" y="1454">TNXB|NM_032470</text>
<text x="357" y="1479">LST1|NM_205837</text><text x="492.6" y="1479">LY6G6E|NR_024541</text>
<text x="357" y="1504">LST1|NM_007161</text><text x="492.6" y="1504">LY6G6E|NR_003673</text>
<text x="357" y="1529">LST1|NM_205840</text><text x="504.5" y="1529">C6orf25|NM_138275</text>
<text x="357" y="1554">LST1|NM_001166538</text><text x="504.5" y="1554">C6orf25|NM_138274</text>
<text x="359.2" y="1579">NCR3|NM_001145466</text><text x="504.5" y="1579">C6orf25|NM_138277</text>
<text x="359.2" y="1604">NCR3|NM_147130</text><text x="504.5" y="1604">C6orf25|NM_138273</text>
<text x="359.2" y="1629">NCR3|NM_001145467</text><text x="504.5" y="1629">C6orf25|NM_138272</text>
<text x="388.2" y="1654">AIF1|NM_004847</text><text x="509.1" y="1654">DDAH2|NM_013974</text>
<text x="388.2" y="1679">AIF1|NM_001623</text><text x="513" y="1679">CLIC1|NM_001288</text>
<text x="388.2" y="1704">AIF1|NM_032955</text><text x="523.2" y="1704">MSH5|NM_025259</text>
<text x="413.1" y="1729">BAG6|NM_004639</text><text x="523.2" y="1729">MSH5-SAPCD1|NR_037846</text>
<text x="413.1" y="1754">BAG6|NM_080702</text>
<text x="413.1" y="1779">BAG6|NM_001199698</text>
<text x="413.1" y="1804">BAG6|NM_001098534</text>
<text x="413.1" y="1829">BAG6|NM_080703</text>
<text x="413.1" y="1854">BAG6|NM_001199697</text>
</g>

<!-- segmental duplications -->
<text class="t" x="59" y="1899" textLength="190" lengthAdjust="spacingAndGlyphs">UCSC segmental duplications</text>
<text x="112.4" y="1911">%ID:92.5163|Length:1991</text><text x="605.5" y="1911">%ID:98.0512|Length:2463</text><text x="784.9" y="1911">%ID:99.6486|Length:2463</text>
<text x="114.6" y="1932">%ID:91.4083|Length:3387</text><text x="618.6" y="1932">%ID:98.0512|Length:2463</text><text x="820" y="1932">%ID:99.6486|Length</text>
<text x="114.6" y="1953">%ID:91.0808|Length:2859</text><text x="696.9" y="1953">%ID:95.5519|Length:2428</text><text x="858.1" y="1953">%ID:95</text>
<text x="114.6" y="1974">%ID:90.9548|Length:3383</text><text x="858.1" y="1974">%ID:92</text>
<text x="114.6" y="1995">%ID:92.4038|Length:1040</text><text x="858.1" y="1995">%ID:93</text>
<text x="118.6" y="2016">%ID:93.9176|Length:1529</text>
<text x="140.7" y="2037">%ID:93.3868|Length:24058</text>
<text x="245.2" y="2058">%ID:93.3868|Length:24058</text>
<g transform="scale(0.56754 1)">
<rect class="b" x="199" y="1914" width="5" height="6"/><rect class="p" x="1067" y="1914" width="6" height="6"/><rect class="r" x="1383" y="1914" width="63" height="6"/>
<rect class="b" x="202" y="1935" width="9" height="6"/><rect class="p" x="1090" y="1935" width="7" height="6"/><rect class="r" x="1445" y="1935" width="65" height="6"/>
<rect class="b" x="202" y="1956" width="9" height="6"/><rect class="g" x="1228" y="1956" width="7" height="6"/><rect class="g" x="1512" y="1956" width="7" height="6"/>
<rect class="b" x="202" y="1977" width="9" height="6"/><rect class="b" x="1512" y="1977" width="7" height="6"/>
<rect class="b" x="203" y="1998" width="5" height="6"/><rect class="g" x="1512" y="1998" width="7" height="6"/>
<rect class="g" x="209" y="2019" width="6" height="6"/>
<rect class="g" x="248" y="2040" width="57" height="6"/>
<rect class="g" x="433" y="2061" width="53" height="6"/>
</g>

<!-- Disease genes -->
<text class="t" x="59" y="2099" textLength="140" lengthAdjust="spacingAndGlyphs">Disease Genes (OMIM)</text>
<g class="o" transform="scale(0.56754 1)">
<g transform="translate(0,2115)"><path d="M180 0L172 4L180 8"/><rect x="172" y="3.5" width="14" height="1"/><rect x="186" width="7" height="8"/><path d="M1145 0L1137 4L1145 8"/><rect x="1137" y="3.5" width="13" height="1"/><rect x="1150" width="11" height="8"/></g>
<g transform="translate(0,2159)"><rect x="553" width="4" height="8"/><rect x="566" width="10" height="8"/><rect x="553" y="3.5" width="39" height="1"/><path d="M584 0L592 4L584 8"/></g>
<g transform="translate(0,2203)"><rect x="553" width="4" height="8"/><rect x="566" width="10" height="8"/><rect x="553" y="3.5" width="39" height="1"/><path d="M584 0L592 4L584 8"/></g>
<g transform="translate(0,2247)"><rect x="553" width="4" height="8"/><rect x="566" width="10" height="8"/><rect x="553" y="3.5" width="39" height="1"/><path d="M584 0L592 4L584 8"/></g>
<g transform="translate(0,2291)"><rect x="553" width="4" height="8"/><rect x="566" width="10" height="8"/><rect x="553" y="3.5" width="39" height="1"/><path d="M584 0L592 4L584 8"/></g>
<g transform="translate(0,2335)"><rect x="603" width="7" height="8"/><rect x="610" y="3.5" width="12" height="1"/><path d="M614 0L622 4L614 8"/><rect x="1231" width="4" height="8"/><rect x="1235" y="3.5" width="97" height="1"/><rect x="1292" width="26" height="8"/><path d="M1324 0L1332 4L1324 8"/></g>
<g transform="translate(0,2379)"><rect x="603" width="7" height="8"/><rect x="610" y="3.5" width="12" height="1"/><path d="M614 0L622 4L614 8"/><rect x="1280" width="38" height="8"/><rect x="1318" y="3.5" width="14" height="1"/><path d="M1324 0L1332 4L1324 8"/></g>
<g transform="translate(0,2423)"><rect x="609" width="9" height="8"/><rect x="618" y="3.5" width="12" height="1"/><path d="M622 0L630 4L622 8"/><rect x="1280" width="38" height="8"/><rect x="1318" y="3.5" width="14" height="1"/><path d="M1324 0L1332 4L1324 8"/></g>
<g transform="translate(0,2467)"><path d="M629 0L621 4L629 8"/><rect x="621" y="3.5" width="12" height="1"/><rect x="633" width="12" height="8"/><rect x="1315" width="21" height="8"/><path d="M1335 0L1343 4L1335 8"/></g>
<g transform="translate(0,2511)"><path d="M629 0L621 4L629 8"/><rect x="621" y="3.5" width="12" height="1"/><rect x="633" width="12" height="8"/><rect x="1387" width="40" height="8"/><rect x="1427" y="3.5" width="13" height="1"/><path d="M1432 0L1440 4L1432 8"/></g>
<g transform="translate(0,2555)"><path d="M629 0L621 4L629 8"/><rect x="621" y="3.5" width="12" height="1"/><rect x="633" width="12" height="8"/><rect x="1387" width="40" height="8"/><rect x="1427" y="3.5" width="13" height="1"/><path d="M1432 0L1440 4L1432 8"/></g>
<g transform="translate(0,2599)"><rect x="1448" width="6" height="8"/><rect x="1464" width="26" height="8"/><rect x="1448" y="3.5" width="55" height="1"/><path d="M1495 0L1503 4L1495 8"/></g>
<g transform="translate(0,2643)"><rect x="1448" width="6" height="8"/><rect x="1464" width="26" height="8"/><rect x="1448" y="3.5" width="55" height="1"/><path d="M1495 0L1503 4L1495 8"/></g>
<g transform="translate(0,2687)"><rect x="1493" width="9" height="8"/><rect x="1502" y="3.5" width="13" height="1"/><path d="M1507 0L1515 4L1507 8"/></g>
<g transform="translate(0,2731)"><rect x="1493" width="9" height="8"/><rect x="1502" y="3.5" width="13" height="1"/><path d="M1507 0L1515 4L1507 8"/></g>
<g transform="translate(0,2775)"><path d="M1495 0L1487 4L1495 8"/><rect x="1487" y="3.5" width="12" height="1"/><rect x="1499" width="18" height="8"/></g>
<g transform="translate(0,2819)"><path d="M1495 0L1487 4L1495 8"/><rect x="1487" y="3.5" width="12" height="1"/><rect x="1499" width="10" height="8"/></g>
</g>
<g>
<text class="d" x="104.4" y="2136.5">HLA-B|major histocompatibility complex, class I, B</text><text class="d" x="652.1" y="2136.5">NEU1|sialidase 1 (lysosomal sialidase)</text>
<text class="d" x="314.4" y="2180.5">NFKBIL1|nuclear factor of kappa light polypeptide gene enhancer in B-cells inhibitor-like 1</text>
<text class="d" x="314.4" y="2224.5">NFKBIL1|nuclear factor of kappa light polypeptide gene enhancer in B-cells inhibitor-like 1</text>
<text class="d" x="314.4" y="2268.5">NFKBIL1|nuclear factor of kappa light polypeptide gene enhancer in B-cells inhibitor-like 1</text>
<text class="d" x="314.4" y="2312.5">NFKBIL1|nuclear factor of kappa light polypeptide gene enhancer in B-cells inhibitor-like 1</text>
<text class="d" x="341.6" y="2356.5">LTA|lymphotoxin alpha (TNF superfamily, member 1)</text><text class="d" x="698" y="2356.5">C2|complement component 2</text>
<text class="d" x="341.6" y="2400.5">LTA|lymphotoxin alpha (TNF superfamily, member 1)</text><text class="d" x="726.4" y="2400.5">C2|complement component 2</text>
<text class="d" x="345.6" y="2444.5">TNF|tumor necrosis factor</text><text class="d" x="726.4" y="2444.5">C2|complement component 2</text>
<text class="d" x="359.2" y="2488.5">NCR3|natural cytotoxicity triggering receptor 3</text><text class="d" x="746.3" y="2488.5">CFB|complement factor B</text>
<text class="d" x="359.2" y="2532.5">NCR3|natural cytotoxicity triggering receptor 3</text><text class="d" x="786.6" y="2532.5">C4A|complement component 4A</text>
<text class="d" x="359.2" y="2576.5">NCR3|natural cytotoxicity triggering receptor 3</text><text class="d" x="786.6" y="2576.5">C4B|complement component 4B</text>
<text class="d" x="821.2" y="2620.5">C4A|complement component 4A</text>
<text class="d" x="821.2" y="2664.5">C4B|complement component 4B</text>
<text class="d" x="847.3" y="2708.5">CYP21A2|cytochrome P450</text>
<text class="d" x="847.3" y="2752.5">CYP21A2|cytochrome P450</text>
<text class="d" x="850.7" y="2796.5">TNXB|tenascin XB</text>
<text class="d" x="850.7" y="2840.5">TNXB|tenascin XB</text>
</g>
</svg>
</body></html>
